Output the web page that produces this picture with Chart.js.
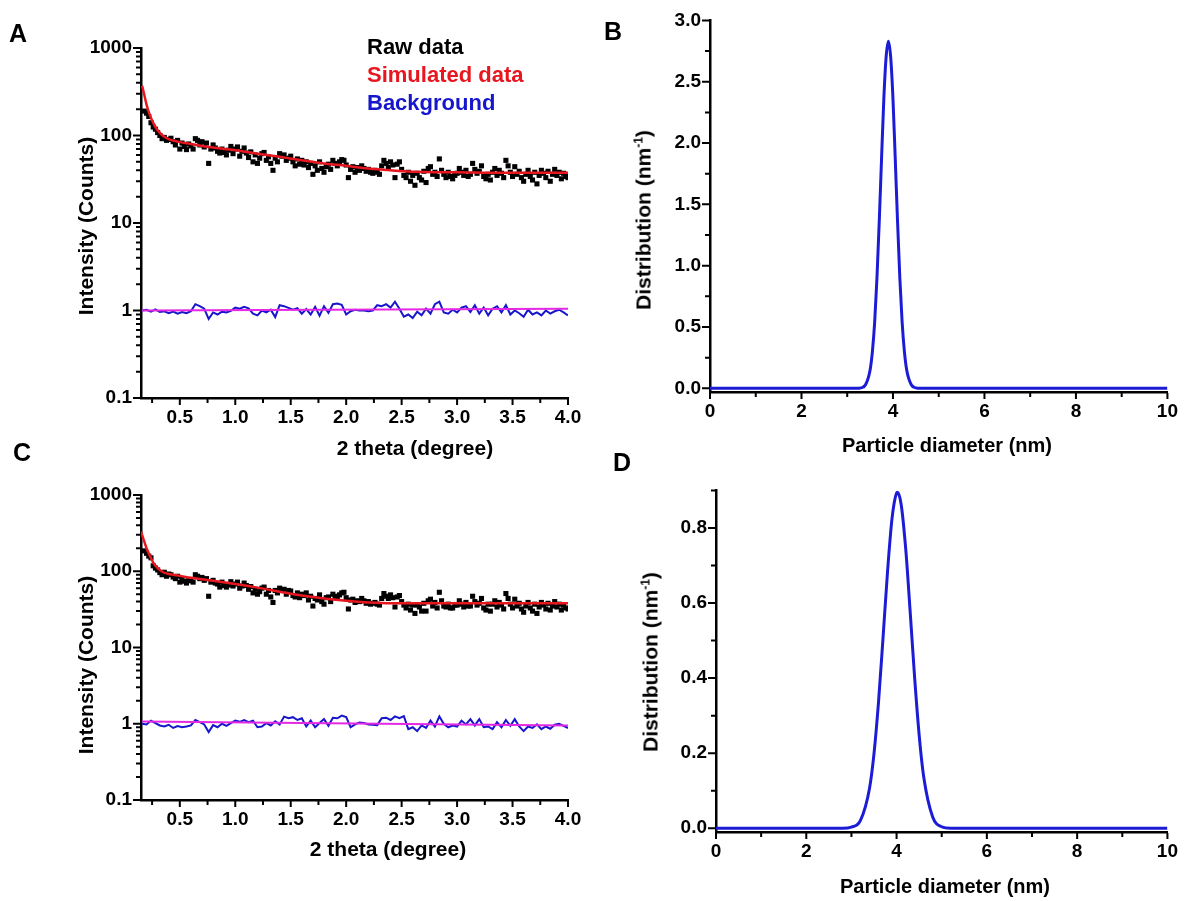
<!DOCTYPE html>
<html><head><meta charset="utf-8">
<script src="https://cdn.jsdelivr.net/npm/chart.js@4.4.1/dist/chart.umd.min.js"></script>
<style>
html,body{margin:0;padding:0;background:#fff;}
body{width:1186px;height:901px;position:relative;overflow:hidden;font-family:"Liberation Sans",Arial,sans-serif;}
.panel{position:absolute;}
.lbl{position:absolute;white-space:nowrap;font-weight:bold;color:#000;line-height:1;}
.letter{font-size:25px;transform:translate(-50%,-50%);}
.ytitle{font-size:21px;transform:translate(-50%,-50%) rotate(-90deg);}
.xtitle{font-size:20px;transform:translate(-50%,-50%);}
.leg{font-size:22px;transform:translateY(-50%);}
sup{font-size:12px;vertical-align:8px;line-height:0;}
</style></head>
<body>
<div class="panel" style="left:0;top:0;"><canvas id="cA" width="590" height="470"></canvas></div>
<div class="panel" style="left:600px;top:0;"><canvas id="cB" width="586" height="470"></canvas></div>
<div class="panel" style="left:0;top:470px;"><canvas id="cC" width="590" height="431"></canvas></div>
<div class="panel" style="left:600px;top:470px;"><canvas id="cD" width="586" height="431"></canvas></div>

<div class="lbl letter" style="left:18px;top:33px;">A</div>
<div class="lbl letter" style="left:613px;top:31px;">B</div>
<div class="lbl letter" style="left:22px;top:452px;">C</div>
<div class="lbl letter" style="left:622px;top:462px;">D</div>

<div class="lbl leg" style="left:367px;top:47px;color:#000;">Raw data</div>
<div class="lbl leg" style="left:367px;top:75px;color:rgb(232,22,30);">Simulated data</div>
<div class="lbl leg" style="left:367px;top:103px;color:rgb(22,22,205);">Background</div>

<div class="lbl xtitle" style="left:415px;top:447px;font-size:21px;">2 theta (degree)</div>
<div class="lbl ytitle" style="left:85px;top:226px;">Intensity (Counts)</div>
<div class="lbl xtitle" style="left:947px;top:445px;">Particle diameter (nm)</div>
<div class="lbl ytitle" style="left:643px;top:220px;">Distribution (nm<sup>-1</sup>)</div>
<div class="lbl xtitle" style="left:388px;top:848px;font-size:21px;">2 theta (degree)</div>
<div class="lbl ytitle" style="left:85px;top:665px;">Intensity (Counts)</div>
<div class="lbl xtitle" style="left:945px;top:886px;">Particle diameter (nm)</div>
<div class="lbl ytitle" style="left:650px;top:662px;">Distribution (nm<sup>-1</sup>)</div>

<script>
// ---------------- DATA ----------------
// 2-theta sampling of the raw scans (degrees)
const rawStart = 0.18, rawStep = 0.02;
const rawA = [
190,180,165,140,125,118,108,100,92,95,
88,90,93,85,78,88,70,82,75,69,
80,76,70,92,88,78,85,74,82,48,
70,78,72,66,63,70,64,60,68,75,
62,70,74,58,66,72,63,56,65,50,
60,48,55,62,64,52,57,48,40,55,
50,62,58,60,52,55,58,50,45,54,
47,52,46,50,43,48,36,45,40,50,
42,38,44,47,41,52,48,45,50,53,
52,46,33,41,44,38,43,40,45,42,
39,41,38,37,40,38,36,45,52,48,
43,50,46,33,47,50,41,35,33,38,
30,35,27,37,33,31,39,29,42,44,
36,38,34,54,40,36,33,38,34,32,
35,37,42,38,35,40,34,36,48,41,
37,39,45,34,32,36,31,38,42,35,
40,37,33,52,45,38,34,44,36,39,
33,30,36,40,34,31,38,28,35,40,
37,33,39,30,36,41,35,38,32,37,
34,33];
const rawC = [
185,172,158,150,118,110,104,96,90,97,
86,92,90,84,80,86,72,80,74,70,
78,75,72,90,86,80,83,76,80,47,
72,76,70,68,62,72,65,62,66,73,
64,68,72,60,64,70,65,58,63,52,
58,50,54,60,62,50,56,46,39,56,
52,60,57,58,50,56,55,48,46,52,
45,50,48,52,42,47,35,44,42,49,
40,37,45,46,40,50,47,44,49,52,
53,45,32,42,43,39,41,40,44,41,
38,40,37,38,39,37,36,44,51,47,
44,49,45,34,46,48,40,36,33,37,
31,36,28,36,34,30,38,30,41,43,
35,39,33,53,41,35,34,37,33,33,
36,36,41,37,34,39,35,35,47,40,
36,38,44,33,31,37,30,37,41,34,
39,36,32,51,44,37,33,43,35,38,
32,29,35,39,33,30,37,28,34,39,
36,32,38,31,35,40,34,37,31,36,
33,32];

// simulated (fitted) curves
const simAx = [0.16,0.18,0.20,0.22,0.25,0.28,0.32,0.36,0.40,0.45,0.50,0.60,0.70,0.80,0.90,1.00,1.20,1.40,1.60,1.80,2.00,2.20,2.40,2.60,2.80,3.00,3.30,3.60,4.00];
const simAy = [370,290,225,185,148,125,107,97,91,87,84,80,76,73,70,68,62,57,52,48,45,42,40,38.5,38,38,37.5,37.5,37.5];
const simCx = [0.15,0.17,0.20,0.23,0.26,0.30,0.35,0.40,0.50,0.60,0.80,1.00,1.20,1.40,1.60,1.80,2.00,2.20,2.40,2.60,3.00,3.50,4.00];
const simCy = [330,270,200,160,130,110,97,92,87,82,75,68,61,54,48,44,41,39,38,38,38,38,38];

// background scans
const bgStart = 0.16, bgStep = 0.04;
const bgA = [
1.00,1.02,0.97,1.03,0.96,0.98,0.93,0.97,0.92,0.96,
0.93,0.98,1.18,1.12,1.05,0.80,0.95,0.90,0.97,0.95,
0.99,1.08,1.05,1.10,1.06,0.92,0.88,1.00,0.95,1.02,
0.84,1.15,1.12,1.07,1.02,1.06,0.92,1.04,0.90,1.10,
0.87,1.12,0.94,1.18,1.20,1.16,0.90,0.98,1.02,1.00,
1.00,0.98,1.00,1.15,1.12,1.18,1.08,1.26,1.05,0.85,
0.90,0.82,0.97,0.88,1.05,0.92,1.18,1.26,0.95,0.92,
1.02,0.95,1.08,1.12,0.96,1.15,0.92,1.08,0.88,1.05,
1.12,0.95,1.15,0.90,1.00,0.93,0.85,1.02,0.90,0.95,
0.88,1.00,0.92,0.98,1.02,0.95,0.88];
const bgC = [
1.00,0.98,1.10,1.02,0.95,0.92,0.97,0.88,0.93,0.90,
0.92,0.95,1.12,1.05,0.98,0.78,0.96,0.90,1.00,0.94,
1.02,1.10,1.06,1.12,1.05,1.10,0.90,0.92,1.02,0.95,
1.08,0.98,1.24,1.18,1.22,1.12,1.18,0.92,1.10,0.90,
1.02,1.15,0.94,1.20,1.18,1.28,1.22,0.90,0.98,1.04,
1.02,0.98,0.97,0.96,1.18,1.20,1.12,1.25,1.18,1.26,
0.85,0.90,0.80,0.95,0.88,1.10,0.92,1.25,1.00,0.90,
0.95,0.92,1.10,0.98,1.15,0.95,1.15,0.90,0.92,0.85,
1.05,0.90,1.12,0.94,1.15,0.92,0.80,0.92,0.88,0.98,
0.85,0.92,0.86,0.97,1.00,0.94,0.88];

// linear background fits
const fitAx = [0.16, 4.00], fitAy = [1.00, 1.05];
const fitCx = [0.16, 4.00], fitCy = [1.07, 0.95];

// size distributions
const distBx = [0,3.2,3.3,3.4,3.5,3.55,3.6,3.65,3.7,3.75,3.8,3.85,3.9,3.95,4.0,4.05,4.1,4.15,4.2,4.25,4.3,4.4,4.5,4.6,10];
const distBy = [0,0,0.004,0.029,0.15,0.30,0.54,0.90,1.36,1.87,2.36,2.70,2.83,2.70,2.36,1.87,1.36,0.90,0.54,0.30,0.15,0.029,0.004,0,0];
const distDx = [0,2.8,3.0,3.2,3.4,3.5,3.6,3.7,3.8,3.9,4.0,4.02,4.1,4.2,4.3,4.4,4.5,4.6,4.8,5.0,5.2,10];
const distDy = [0,0,0.003,0.021,0.106,0.199,0.336,0.507,0.684,0.826,0.893,0.895,0.864,0.748,0.579,0.401,0.249,0.138,0.030,0.004,0,0];

// tick values / labels
const thetaTicks = [0.5,1.0,1.5,2.0,2.5,3.0,3.5,4.0];
const thetaMinor = [0.25,0.75,1.25,1.75,2.25,2.75,3.25,3.75];
const logTicks = [0.1,1,10,100,1000];
const logDecades = [0.1,1,10,100];
const diamTicks = [0,2,4,6,8,10];
const diamMinor = [1,3,5,7,9];
const distBTicks = [0,0.5,1.0,1.5,2.0,2.5,3.0];
const distBMinor = [0.25,0.75,1.25,1.75,2.25,2.75];
const distDTicks = [0,0.2,0.4,0.6,0.8];
const distDMinor = [0.1,0.3,0.5,0.7,0.9];

// ---------------- HELPERS ----------------
const logMinor = [];
logDecades.forEach(d => { for (let m = 2; m <= 9; m++) logMinor.push(+(m * d).toPrecision(3)); });

const pts = (xs, ys) => ys.map((v, i) => ({x: xs[i], y: v}));
const grid = (start, step, ys) => ys.map((v, i) => ({x: +(start + i * step).toFixed(3), y: v}));

const FONT = '"Liberation Sans", Arial, sans-serif';
const RED = 'rgb(232,22,30)', BLUE = 'rgb(22,22,205)', MAG = 'rgb(228,40,228)', DBLUE = 'rgb(28,28,215)';

const tickMarks = {
  id: 'tickMarks',
  afterDraw(chart, args, o) {
    const {ctx, chartArea: a, scales: {x, y}} = chart;
    ctx.save();
    ctx.strokeStyle = '#000';
    ctx.lineWidth = 2;
    ctx.beginPath();
    const xb = a.bottom + 1;
    o.xMajor.forEach(v => { const p = x.getPixelForValue(v); ctx.moveTo(p, xb); ctx.lineTo(p, xb + 6); });
    o.xMinor.forEach(v => { const p = x.getPixelForValue(v); ctx.moveTo(p, xb); ctx.lineTo(p, xb + 4); });
    const yl = a.left - 1;
    o.yMajor.forEach(v => { const p = y.getPixelForValue(v); ctx.moveTo(yl, p); ctx.lineTo(yl - 7, p); });
    o.yMinor.forEach(v => { const p = y.getPixelForValue(v); ctx.moveTo(yl, p); ctx.lineTo(yl - 4, p); });
    ctx.stroke();
    ctx.restore();
  }
};

function axis(type, min, max, ticks, fmt, fit, pad) {
  return {
    type, min, max,
    afterBuildTicks: s => { s.ticks = ticks.map(v => ({value: v})); },
    afterFit: fit,
    grid: {display: false, drawTicks: false},
    border: {display: true, color: '#000', width: 2.5},
    ticks: {color: '#000', font: {family: FONT, size: 19, weight: 'bold'}, padding: pad,
            autoSkip: false, maxRotation: 0, callback: v => fmt(v)}
  };
}

function make(id, datasets, scales, padding, tm) {
  new Chart(document.getElementById(id), {
    type: 'scatter',
    data: {datasets},
    options: {
      responsive: false, animation: false, devicePixelRatio: 1, events: [],
      layout: {padding},
      plugins: {legend: {display: false}, tooltip: {enabled: false}, tickMarks: tm},
      scales
    },
    plugins: [tickMarks]
  });
}

const lineDs = (data, color, w, extra) => Object.assign({data, showLine: true, borderColor: color, borderWidth: w, pointRadius: 0, fill: false}, extra || {});
const rawDs = data => ({data, showLine: false, pointStyle: 'rect', pointRadius: 3.6, backgroundColor: '#000', borderWidth: 0});

const fmtLog = v => String(v);
const fmt1 = v => v.toFixed(1);
const fmt0 = v => String(v);

// ---------------- PANEL A ----------------
make('cA', [
  lineDs(pts(fitAx, fitAy), MAG, 2),
  lineDs(pts(simAx, simAy), RED, 2.5, {cubicInterpolationMode: 'monotone'}),
  lineDs(grid(bgStart, bgStep, bgA), BLUE, 2),
  rawDs(grid(rawStart, rawStep, rawA))
], {
  x: axis('linear', 0.15, 4.0, thetaTicks, fmt1, s => { s.height = 72; }, 8),
  y: axis('logarithmic', 0.1, 1000, logTicks, fmtLog, s => { s.width = 141; }, 9)
}, {top: 48, right: 22, left: 0, bottom: 0},
{xMajor: thetaTicks, xMinor: thetaMinor, yMajor: logTicks, yMinor: logMinor});

// ---------------- PANEL B ----------------
make('cB', [
  lineDs(pts(distBx, distBy), DBLUE, 3, {cubicInterpolationMode: 'monotone'})
], {
  x: axis('linear', 0, 10, diamTicks, fmt0, s => { s.height = 78; }, 8),
  y: axis('linear', -0.03, 3.0, distBTicks, fmt1, s => { s.width = 110; }, 9)
}, {top: 18, right: 16, left: 0, bottom: 0},
{xMajor: diamTicks, xMinor: diamMinor, yMajor: distBTicks, yMinor: distBMinor});

// ---------------- PANEL C ----------------
make('cC', [
  lineDs(pts(fitCx, fitCy), MAG, 2),
  lineDs(pts(simCx, simCy), RED, 2.5, {cubicInterpolationMode: 'monotone'}),
  lineDs(grid(bgStart, bgStep, bgC), BLUE, 2),
  rawDs(grid(rawStart, rawStep, rawC))
], {
  x: axis('linear', 0.15, 4.0, thetaTicks, fmt1, s => { s.height = 101; }, 8),
  y: axis('logarithmic', 0.1, 1000, logTicks, fmtLog, s => { s.width = 141; }, 9)
}, {top: 25, right: 22, left: 0, bottom: 0},
{xMajor: thetaTicks, xMinor: thetaMinor, yMajor: logTicks, yMinor: logMinor});

// ---------------- PANEL D ----------------
make('cD', [
  lineDs(pts(distDx, distDy), DBLUE, 3, {cubicInterpolationMode: 'monotone'})
], {
  x: axis('linear', 0, 10, diamTicks, fmt0, s => { s.height = 69; }, 8),
  y: axis('linear', -0.01, 0.9, distDTicks, fmt1, s => { s.width = 116; }, 9)
}, {top: 2, right: 14, left: 0, bottom: 0},
{xMajor: diamTicks, xMinor: diamMinor, yMajor: distDTicks, yMinor: distDMinor});
</script>
</body></html>
